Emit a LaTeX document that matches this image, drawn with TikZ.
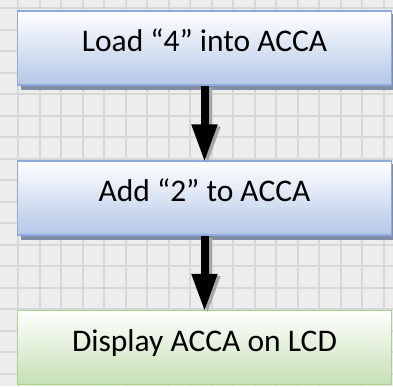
\documentclass[tikz,border=0pt]{standalone}
\usepackage{fontspec}
\setmainfont{Carlito}
\usetikzlibrary{arrows.meta,shadings}
\definecolor{paper}{HTML}{EDEDED}
\definecolor{gridline}{HTML}{D7D7D7}
\definecolor{blueedge}{HTML}{8FAADC}
\definecolor{bluefill}{HTML}{B4C7E7}
\definecolor{greenedge}{HTML}{A9D18E}
\definecolor{greenfill}{HTML}{C5E0B4}
\definecolor{boxshadow}{HTML}{7F8DA6}
\tikzset{
  stepbox/.style={rectangle, minimum width=374.4pt, minimum height=74pt,
    inner sep=0pt, text height=21pt, text depth=13.6pt,
    font=\fontsize{31.5}{38}\selectfont, line width=1.5pt},
  bluebox/.style={stepbox, draw=blueedge, top color=white, bottom color=bluefill},
  greenbox/.style={stepbox, draw=greenedge, top color=white, bottom color=greenfill},
  flowarrow/.style={line width=8pt, -{Triangle[width=24pt,length=38pt]}, shorten >=-2pt},
}
\begin{document}
\begin{tikzpicture}[x=1pt,y=-1pt]
  \useasboundingbox (0,0) rectangle (393,386);
  % squared paper behind the chart
  \fill[paper] (0,0) rectangle (393,386);
  \begin{scope}
    \clip (0,0) rectangle (393,386);
    \foreach \k in {0,...,18} {
      \draw[gridline, line width=1.8pt] ({18.3+21.5*\k},0) -- ({18.3+21.5*\k},386);
      \draw[gridline, line width=1.8pt] (0,{8.3+21.5*\k}) -- (393,{8.3+21.5*\k});
    }
  \end{scope}
  % drop shadows of the two blue boxes
  \fill[boxshadow] (20.7,14) rectangle (395,90);
  \fill[boxshadow] (20.7,164) rectangle (395,240);
  % process boxes
  \node[bluebox] (load) at (204.5,48) {Load “4” into ACCA};
  \node[bluebox] (add) at (204.5,198) {Add “2” to ACCA};
  \node[greenbox] (show) at (204.5,347.5) {Display ACCA on LCD};
  % arrow shadows, then arrows
  \begin{scope}[transform canvas={shift={(3pt,-2pt)}}]
    \draw[flowarrow, gray!70] (load.south) -- (add.north);
    \draw[flowarrow, gray!70] (add.south) -- (show.north);
  \end{scope}
  \draw[flowarrow] (load.south) -- (add.north);
  \draw[flowarrow] (add.south) -- (show.north);
\end{tikzpicture}
\end{document}
